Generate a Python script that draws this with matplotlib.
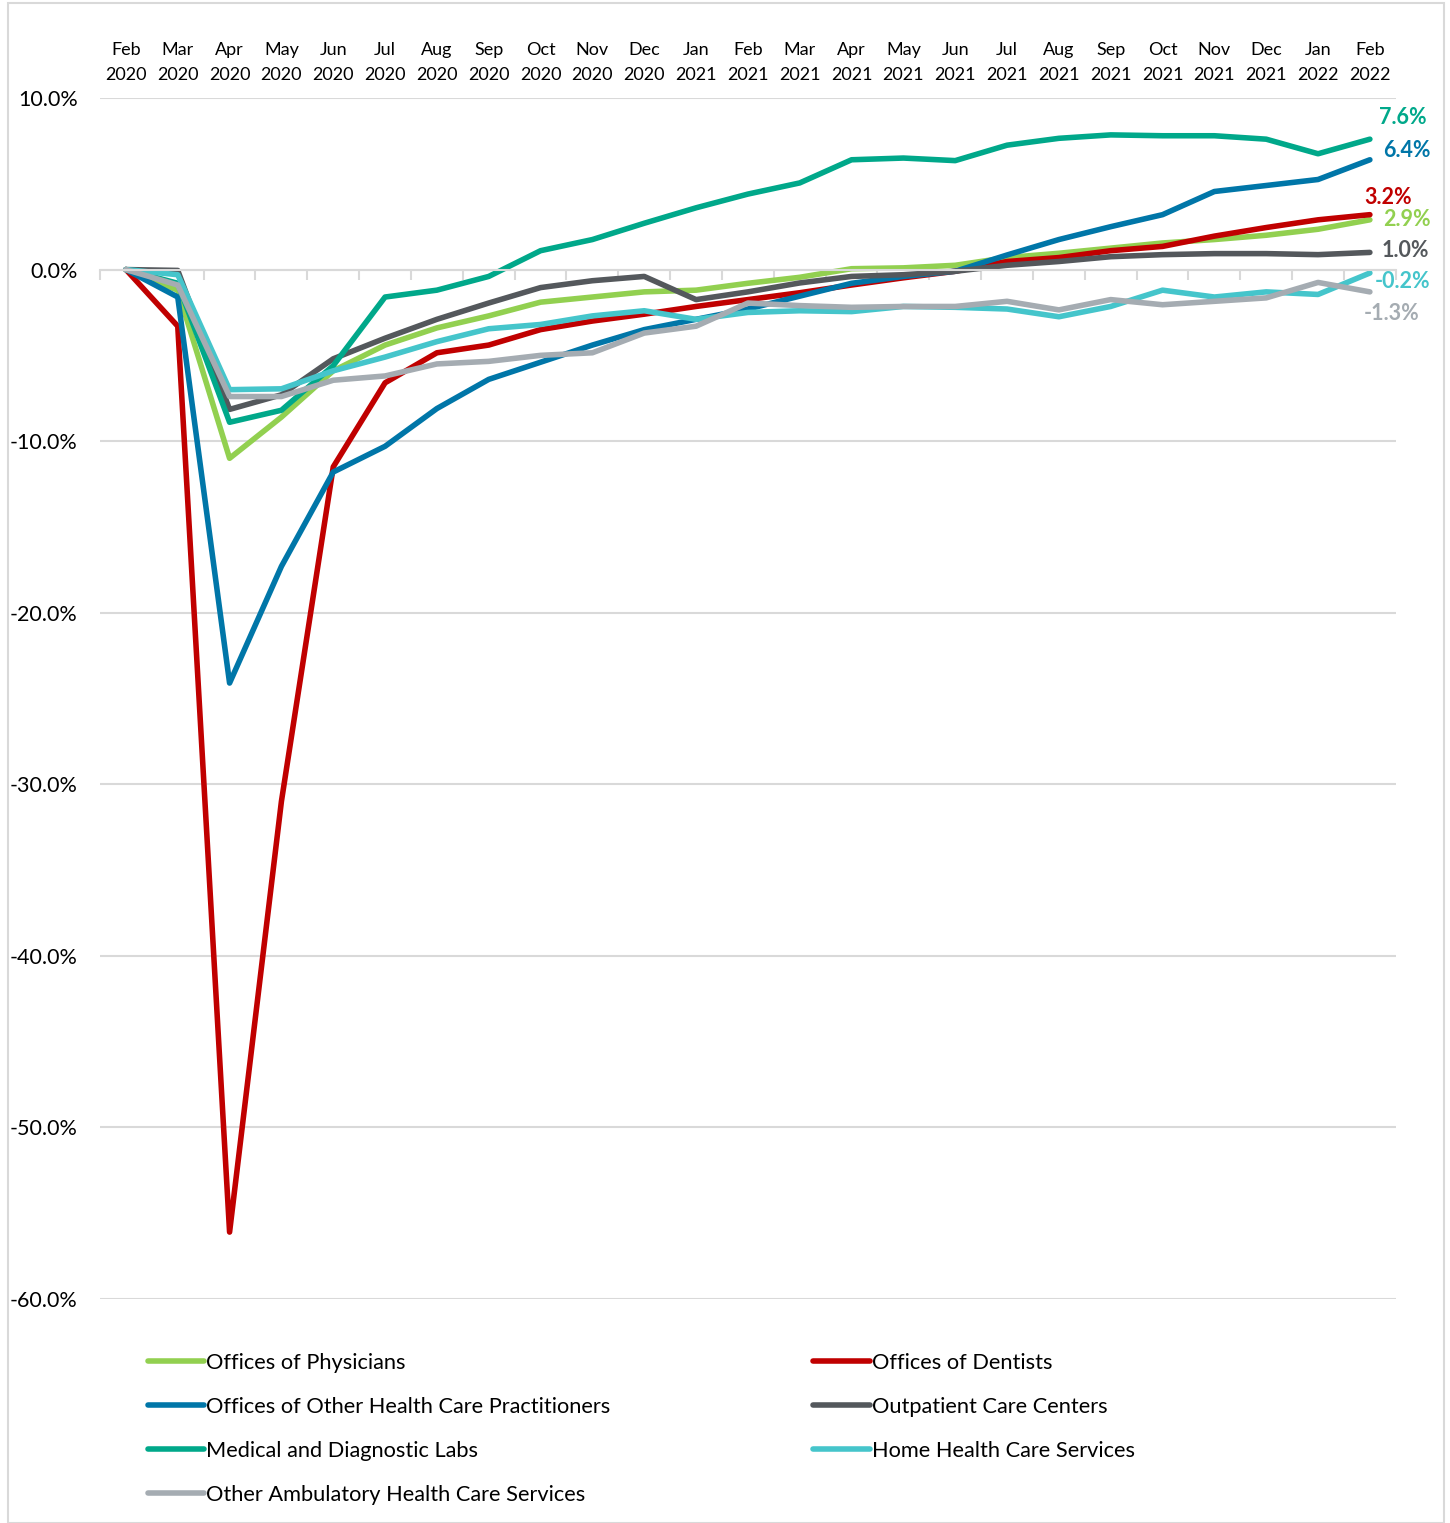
import numpy as np
import matplotlib
matplotlib.use("Agg")
import matplotlib.pyplot as plt
import matplotlib as mpl
from matplotlib.patches import Rectangle

mpl.rcParams['font.family'] = ['Lato', 'DejaVu Sans']
mpl.rcParams['figure.dpi'] = 100

# Month labels (two lines each)
months = ["Feb\n2020", "Mar\n2020", "Apr\n2020", "May\n2020", "Jun\n2020", "Jul\n2020",
          "Aug\n2020", "Sep\n2020", "Oct\n2020", "Nov\n2020", "Dec\n2020", "Jan\n2021",
          "Feb\n2021", "Mar\n2021", "Apr\n2021", "May\n2021", "Jun\n2021", "Jul\n2021",
          "Aug\n2021", "Sep\n2021", "Oct\n2021", "Nov\n2021", "Dec\n2021", "Jan\n2022",
          "Feb\n2022"]

# Percent change since Feb 2020
physicians = [0, -1.2, -11.0, -8.6, -5.9, -4.4, -3.4, -2.7, -1.9, -1.6, -1.3, -1.2, -0.8,
              -0.45, 0.05, 0.1, 0.25, 0.7, 0.95, 1.25, 1.55, 1.75, 2.0, 2.35, 2.9]
dentists = [0, -3.3, -56.1, -31.0, -11.5, -6.6, -4.85, -4.4, -3.5, -3.0, -2.6, -2.15, -1.75,
            -1.35, -0.9, -0.48, -0.1, 0.47, 0.7, 1.1, 1.35, 1.95, 2.45, 2.9, 3.2]
practitioners = [0, -1.6, -24.1, -17.3, -11.8, -10.3, -8.1, -6.4, -5.4, -4.4, -3.5, -2.9, -2.3,
                 -1.55, -0.8, -0.4, -0.1, 0.85, 1.75, 2.5, 3.2, 4.55, 4.9, 5.25, 6.4]
outpatient = [0, -0.05, -8.15, -7.3, -5.2, -4.0, -2.9, -1.95, -1.05, -0.65, -0.4, -1.75, -1.3,
              -0.78, -0.4, -0.3, -0.1, 0.25, 0.47, 0.75, 0.87, 0.93, 0.93, 0.87, 1.0]
labs = [0, -0.8, -8.9, -8.2, -5.6, -1.6, -1.2, -0.4, 1.1, 1.75, 2.7, 3.6, 4.4,
        5.05, 6.4, 6.5, 6.35, 7.25, 7.65, 7.85, 7.8, 7.8, 7.6, 6.75, 7.6]
home_health = [0, -0.3, -7.0, -6.95, -5.9, -5.1, -4.2, -3.45, -3.2, -2.7, -2.4, -2.9, -2.5,
               -2.4, -2.45, -2.15, -2.2, -2.3, -2.75, -2.15, -1.2, -1.6, -1.3, -1.45, -0.2]
other_amb = [0, -0.9, -7.4, -7.4, -6.45, -6.2, -5.5, -5.35, -5.0, -4.85, -3.7, -3.3, -1.95,
             -2.1, -2.2, -2.15, -2.15, -1.85, -2.35, -1.75, -2.05, -1.85, -1.65, -0.75, -1.3]

names = ["Offices of Physicians", "Offices of Dentists",
         "Offices of Other Health Care Practitioners", "Outpatient Care Centers",
         "Medical and Diagnostic Labs", "Home Health Care Services",
         "Other Ambulatory Health Care Services"]
series = [physicians, dentists, practitioners, outpatient, labs, home_health, other_amb]
colors = ["#92D050", "#C00000", "#0076A8", "#54585C", "#00A88A", "#45C5CB", "#A5ACB2"]
end_labels = ["2.9%", "3.2%", "6.4%", "1.0%", "7.6%", "-0.2%", "-1.3%"]
# label offsets from last point, in pixels
label_off = [(37, 0), (18, 17), (37, 9), (35, 2), (33, 22), (33, -8), (22, -22)]

fig = plt.figure(figsize=(14.5, 15.23))
ax = fig.add_axes([100/1450, 1 - 1299/1523, 1295.8/1450, (1299-98)/1523])

x = np.arange(len(months))
lines = []
for s, c, n in zip(series, colors, names):
    ln, = ax.plot(x, s, color=c, lw=4.0, label=n, solid_joinstyle='round', solid_capstyle='round')
    lines.append(ln)

for s, c, t, off in zip(series, colors, end_labels, label_off):
    ax.annotate(t, (x[-1], s[-1]), xytext=off, textcoords='offset pixels',
                ha='center', va='center', color=c, fontsize=15.5, fontweight='bold')

ax.set_xlim(-0.5, 24.5)
ax.set_ylim(-60, 10)
ax.set_yticks(np.arange(-60, 11, 10))
ax.set_yticklabels([f"{v:.1f}%" for v in np.arange(-60, 11, 10)])
ax.grid(axis='y', color='#D9D9D9', lw=1.5)
ax.set_axisbelow(True)

# month labels on top, axis line with ticks at zero
ax.set_xticks(x)
ax.set_xticklabels(months)
ax.set_xticks(np.arange(-0.5, 25, 1), minor=True)
ax.tick_params(axis='x', which='major', bottom=False, top=False, labelbottom=False,
               labeltop=True, pad=7.5, labelsize=13)
ax.tick_params(axis='x', which='minor', bottom=True, top=False, length=7, width=1.5,
               color='#D9D9D9', direction='out')
ax.tick_params(axis='y', length=0, labelsize=15.5, pad=16)
for sp in ['top', 'left', 'right']:
    ax.spines[sp].set_visible(False)
ax.spines['bottom'].set_position(('data', 0))
ax.spines['bottom'].set_color('#D9D9D9')
ax.spines['bottom'].set_linewidth(1.5)

# legend: two columns, row order like the original
order = [0, 2, 4, 6, 1, 3, 5]
fig.legend([lines[i] for i in order], [names[i] for i in order], ncol=2,
           loc='upper left', bbox_to_anchor=(139/1450, 1 - 1344/1523), frameon=False,
           fontsize=15.7, handlelength=2.6, handletextpad=0.08, labelspacing=1.1,
           columnspacing=9.3, borderaxespad=0)

# light frame around the chart
fig.patches.append(Rectangle((8/1450, 0), 1436/1450, 1 - 3/1523, transform=fig.transFigure,
                             fill=False, edgecolor='#D9D9D9', lw=1.5))

# wider gap between month and year lines (set after a first draw so it sticks)
fig.canvas.draw()
for lab in ax.get_xticklabels(which='major'):
    lab.set_linespacing(1.7)
for t in ax.xaxis.get_major_ticks():
    t.label2.set_linespacing(1.7)

plt.savefig("out.png", dpi=100)
